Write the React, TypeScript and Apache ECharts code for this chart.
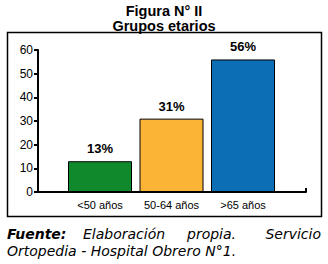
import React, { useEffect, useRef } from "react";
import * as echarts from "echarts";

const categories = ["<50 años", "50-64 años", ">65 años"];
const values = [13, 31, 56];
const barColors = ["#10892d", "#fcb437", "#0c6fb6"];
const yTicks = [0, 10, 20, 30, 40, 50, 60];
const titleLines = ["Figura N° II", "Grupos etarios"];
const sourceLabel = "Fuente:";
const sourceWords = ["Elaboración", "propia.", "Servicio"];
const sourceLine2 = "Ortopedia - Hospital Obrero N°1.";

const FONT = "'Liberation Sans', Arial, sans-serif";
const FOOT = "'DejaVu Sans', 'Liberation Sans', sans-serif";

export default function App() {
  const ref = useRef<HTMLDivElement>(null);
  useEffect(() => {
    if (!ref.current) return;
    const chart = echarts.init(ref.current, null, { renderer: "svg" });
    const yMin = yTicks[0];
    const yMax = yTicks[yTicks.length - 1];
    chart.setOption({
      animation: false,
      backgroundColor: "#ffffff",
      grid: [
        { left: 38, right: 22, top: 50, bottom: 72 },
        { left: 64.25, right: 49.25, top: 50, bottom: 72 },
      ],
      xAxis: [
        {
          type: "value",
          gridIndex: 0,
          min: 0,
          max: 1,
          interval: 1,
          axisLine: { show: true, lineStyle: { color: "#000", width: 2 } },
          axisTick: { show: true, inside: true, length: 4, lineStyle: { color: "#000", width: 2 } },
          axisLabel: { show: false },
          splitLine: { show: false },
        },
        {
          type: "category",
          gridIndex: 1,
          data: categories,
          axisLine: { show: false },
          axisTick: { show: false },
          axisLabel: { color: "#000", fontSize: 11, fontFamily: FONT, margin: 7, interval: 0 },
        },
      ],
      yAxis: [
        {
          type: "value",
          gridIndex: 0,
          min: yMin,
          max: yMax,
          interval: 10,
          axisLine: { show: true, lineStyle: { color: "#000", width: 2 } },
          axisTick: { show: true, length: 4, lineStyle: { color: "#000", width: 2 } },
          axisLabel: { color: "#000", fontSize: 12, fontFamily: FONT, margin: 5 },
          splitLine: { show: false },
        },
        {
          type: "value",
          gridIndex: 1,
          min: yMin,
          max: yMax,
          interval: 10,
          show: false,
        },
      ],
      series: [
        {
          type: "bar",
          xAxisIndex: 1,
          yAxisIndex: 1,
          barWidth: 64,
          data: values.map((v, i) => ({
            value: v,
            itemStyle: { color: barColors[i], borderColor: "#000", borderWidth: 1 },
          })),
          label: {
            show: true,
            position: "top",
            distance: 6,
            formatter: "{c}%",
            color: "#000",
            fontWeight: "bold",
            fontSize: 13,
            fontFamily: FONT,
          },
        },
      ],
      graphic: [
        {
          type: "text",
          x: 164,
          y: 3,
          style: {
            text: titleLines[0],
            font: `bold 14.5px ${FONT}`,
            fill: "#000",
            textAlign: "center",
          },
        },
        {
          type: "text",
          x: 164,
          y: 18,
          style: {
            text: titleLines[1],
            font: `bold 14.5px ${FONT}`,
            fill: "#000",
            textAlign: "center",
          },
        },
        {
          type: "rect",
          shape: { x: 7.5, y: 32.5, width: 314, height: 184 },
          style: { fill: "none", stroke: "#000", lineWidth: 1.5 },
          z: 10,
        },
        {
          type: "text",
          x: 7,
          y: 227,
          style: { text: sourceLabel, font: `oblique bold 14px ${FOOT}`, fill: "#000" },
        },
        {
          type: "text",
          x: 83,
          y: 227,
          style: { text: sourceWords[0], font: `oblique 14px ${FOOT}`, fill: "#000" },
        },
        {
          type: "text",
          x: 187,
          y: 227,
          style: { text: sourceWords[1], font: `oblique 14px ${FOOT}`, fill: "#000" },
        },
        {
          type: "text",
          x: 321,
          y: 227,
          style: { text: sourceWords[2], font: `oblique 14px ${FOOT}`, fill: "#000", textAlign: "right" },
        },
        {
          type: "text",
          x: 7,
          y: 244,
          style: { text: sourceLine2, font: `oblique 14px ${FOOT}`, fill: "#000" },
        },
      ],
    });
    return () => chart.dispose();
  }, []);
  return <div ref={ref} style={{ width: 328, height: 264, position: "fixed", left: 0, top: 0 }} />;
}
